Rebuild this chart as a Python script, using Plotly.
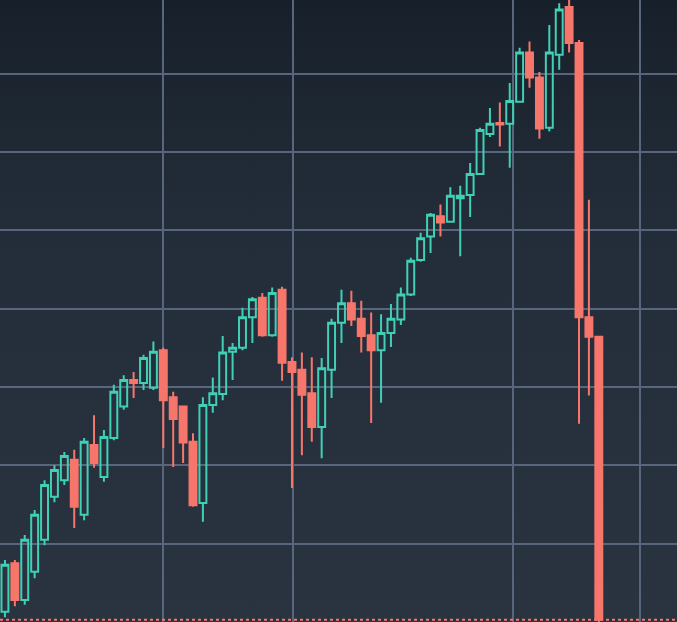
import base64
import plotly.graph_objects as go

# Candle index (left to right) and OHLC values
idx = list(range(61))

opens = [13, 75, 28, 64, 105, 160, 181, 207, 137, 226, 185, 235, 275, 309, 305, 299,
         347, 287, 275, 230, 152, 277, 291, 345, 350, 389, 414, 366, 424, 332, 322, 292,
         249, 322, 382, 407, 387, 366, 347, 369, 386, 418, 462, 492, 518, 511, 541, 545,
         572, 623, 637, 636, 664, 727, 695, 631, 724, 785, 739, 389, 364]
highs = [79, 79, 111, 143, 181, 200, 217, 220, 235, 264, 245, 303, 315, 319, 341, 358,
         350, 294, 276, 241, 287, 312, 365, 356, 401, 415, 420, 427, 428, 338, 344, 338,
         337, 387, 424, 423, 410, 395, 393, 406, 427, 465, 497, 522, 533, 555, 557, 586,
         631, 656, 663, 688, 733, 741, 702, 762, 790, 801, 743, 539, 364]
lows = [6, 20, 22, 56, 98, 153, 175, 120, 130, 197, 179, 232, 271, 286, 296, 296,
        222, 198, 203, 147, 128, 267, 283, 309, 347, 356, 364, 364, 308, 171, 213, 230,
        209, 286, 356, 378, 344, 254, 280, 351, 379, 416, 460, 471, 492, 510, 467, 517,
        571, 619, 607, 580, 663, 682, 617, 626, 705, 727, 253, 289, -4]
closes = [73, 28, 105, 137, 175, 194, 212, 147, 230, 203, 236, 294, 309, 305, 337, 345,
          283, 259, 229, 149, 277, 292, 344, 350, 389, 412, 366, 420, 331, 319, 290, 249,
          324, 382, 407, 386, 365, 347, 369, 387, 418, 461, 490, 520, 510, 544, 544, 572,
          628, 636, 635, 665, 727, 695, 630, 727, 782, 739, 389, 364, 3]

# Vertical grid positions (in candle index units) and horizontal grid step
x_grid = [15.96, 29.09, 51.31, 64.14]
y_step = 100

GREEN = "#3fd0b6"
RED = "#f7766b"
BG = "#25303c"
GRID = "#58667d"

# soft vertical background gradient (darker at the top)
svg = ('<svg xmlns="http://www.w3.org/2000/svg" width="10" height="100" preserveAspectRatio="none">'
       '<defs><linearGradient id="g" x1="0" y1="0" x2="0" y2="1">'
       '<stop offset="0" stop-color="#17202a"/>'
       '<stop offset="0.35" stop-color="#232d39"/>'
       '<stop offset="1" stop-color="#2a3441"/>'
       '</linearGradient></defs><rect width="10" height="100" fill="url(#g)"/></svg>')
bg_uri = "data:image/svg+xml;base64," + base64.b64encode(svg.encode()).decode()

fig = go.Figure()
fig.add_trace(go.Candlestick(
    x=idx, open=opens, high=highs, low=lows, close=closes,
    increasing=dict(line=dict(color=GREEN, width=2), fillcolor="rgba(0,0,0,0)"),
    decreasing=dict(line=dict(color=RED, width=2), fillcolor=RED),
    whiskerwidth=0,
    showlegend=False,
    hoverinfo="skip",
))

# current-price dashed line at the last close
fig.add_hline(y=closes[-1], line=dict(color=RED, width=2, dash="dot"), layer="above")

fig.update_layout(
    width=677, height=622, autosize=False,
    margin=dict(l=0, r=0, t=0, b=0),
    paper_bgcolor=BG, plot_bgcolor="rgba(0,0,0,0)",
    images=[dict(source=bg_uri, xref="paper", yref="paper", x=0, y=1,
                 sizex=1, sizey=1, sizing="stretch", layer="below",
                 xanchor="left", yanchor="top")],
    boxgap=0.3, boxgroupgap=0,
    showlegend=False,
    xaxis=dict(range=[-0.5, 67.9], tickvals=x_grid, showticklabels=False,
               showgrid=True, gridcolor=GRID, gridwidth=2, zeroline=False,
               showline=False, ticks="", rangeslider=dict(visible=False), fixedrange=True),
    yaxis=dict(range=[0, 794], dtick=y_step, tick0=0, showticklabels=False,
               showgrid=True, gridcolor=GRID, gridwidth=2, zeroline=False,
               showline=False, ticks="", fixedrange=True),
)

fig.write_html("out.html", config={"displayModeBar": False},
               post_script="document.body.style.margin='0';document.body.style.overflow='hidden';")
